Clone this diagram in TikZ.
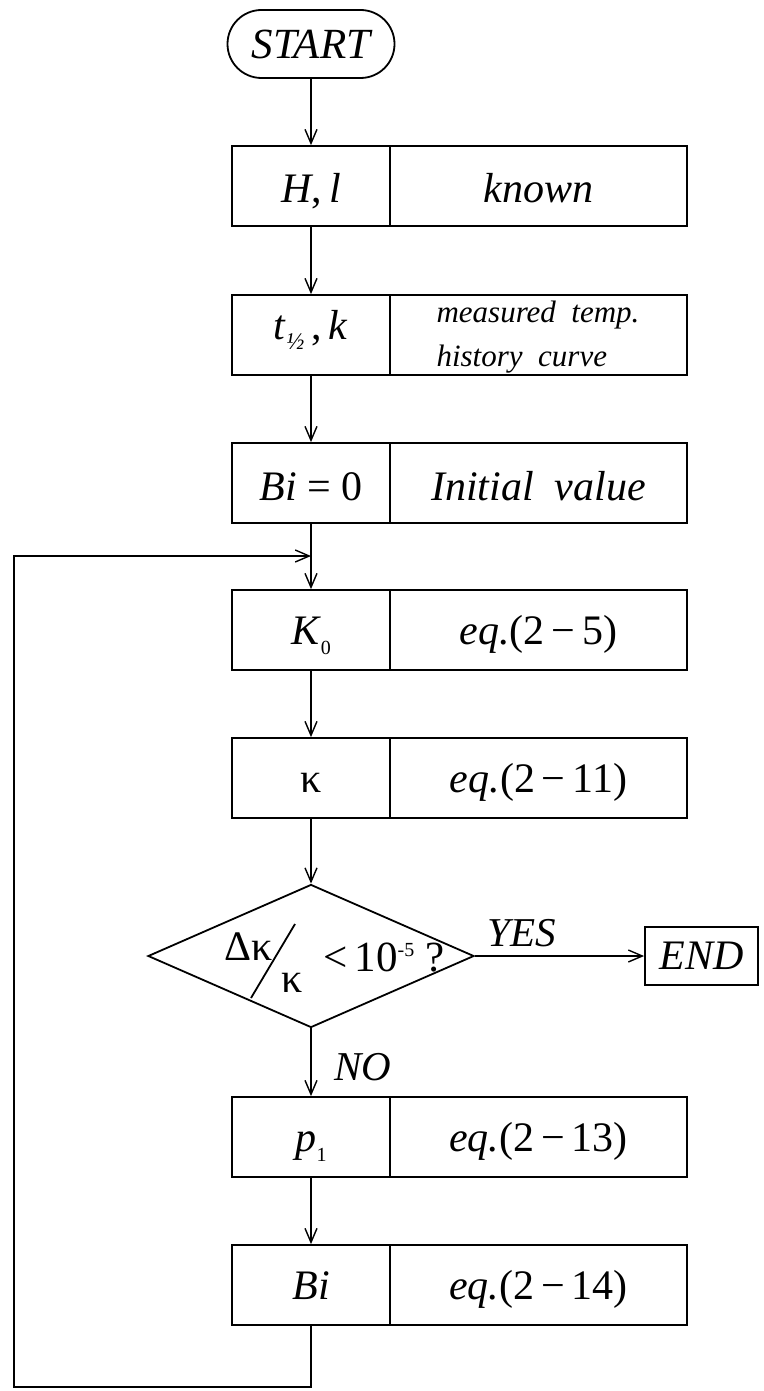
\documentclass[tikz,border=0pt]{standalone}
\usepackage{fontspec}
\setmainfont{Liberation Serif}
\usetikzlibrary{arrows.meta,shapes.geometric}
\begin{document}
\begin{tikzpicture}[x=1pt,y=-1pt,
  box/.style={draw, line width=1.8pt, minimum height=80pt, inner sep=0pt, text height=34pt, text depth=6pt, font=\fontsize{42}{46}\selectfont},
  hibox/.style={text height=37pt, text depth=3pt},
  lbox/.style={box, minimum width=158pt},
  rbox/.style={box, minimum width=297pt},
  flow/.style={line width=1.4pt, -{Straight Barb[length=14pt,width=12pt,line width=1.4pt]}},
  lbl/.style={font=\fontsize{41}{44}\selectfont\itshape, inner sep=0pt}
]
\useasboundingbox (0,0) rectangle (763,1391);
\newcommand{\smallsub}[3]{\raisebox{#1}{\fontsize{#3}{#3}\selectfont #2}}

\node[draw, line width=1.8pt, rounded corners=34pt, minimum width=167pt, minimum height=68pt, inner sep=0pt,
      font=\fontsize{43}{46}\selectfont\itshape] (start) at (311,44) {START};

\node[lbox, hibox] (a) at (311,186) {\textit{H},\,\textit{l}};
\node[rbox, hibox] (ar) at (538.5,186) {\textit{known}};

\node[lbox, text height=24pt, text depth=16pt] (b) at (311,335) {\textit{t}\smallsub{-10pt}{\textit{½}}{24}\,,\,\textit{k}};
\node[rbox] (br) at (538.5,335) {};
\node[inner sep=0pt, align=left, font=\fontsize{31}{44}\selectfont\itshape] (bt) at (538,337) {measured\ \ temp.\\history\ \ curve};

\node[lbox, hibox] (c) at (311,483) {\textit{Bi} = 0};
\node[rbox, hibox] (cr) at (538.5,483) {\textit{Initial\ \ value}};

\node[lbox] (d) at (311,630) {\textit{K}\smallsub{-10pt}{0}{20}};
\node[rbox] (dr) at (538.5,630) {\textit{eq.}(2\,−\,5)};

\node[lbox] (e) at (311,778) {κ};
\node[rbox] (er) at (538.5,778) {\textit{eq.}(2\,−\,11)};

\node[draw, shape=diamond, line width=1.8pt, minimum width=326pt, minimum height=143pt, inner sep=0pt] (dia) at (311,956) {};
\node[inner sep=0pt, anchor=base, font=\fontsize{42}{44}\selectfont] (dk) at (249,960) {Δκ};
\node[inner sep=0pt, anchor=base, font=\fontsize{42}{44}\selectfont] (kk) at (292,992) {κ};
\coordinate (s1) at (295,924);
\coordinate (s2) at (251,998);
\draw[line width=1.8pt] (s1) -- (s2);
\node[inner sep=0pt, anchor=base west, font=\fontsize{43}{46}\selectfont] (lt) at (323,971) {<\,10\smallsub{15pt}{-5}{20}\ ?};

\node[draw, line width=1.8pt, minimum width=113pt, minimum height=58pt, inner sep=0pt,
      font=\fontsize{42}{44}\selectfont\itshape] (end) at (701.5,956) {END};
\node[lbl, anchor=base west] (yes) at (487,946) {YES};
\node[lbl, anchor=base west] (no) at (334,1080) {NO};

\node[lbox] (f) at (311,1137) {\textit{p}\smallsub{-10pt}{1}{20}};
\node[rbox] (fr) at (538.5,1137) {\textit{eq.}(2\,−\,13)};

\node[lbox] (g) at (311,1285) {\textit{Bi}};
\node[rbox] (gr) at (538.5,1285) {\textit{eq.}(2\,−\,14)};

\coordinate (j) at (311,556);
\coordinate (lb) at (14,1387);
\coordinate (lt2) at (14,556);

\draw[flow] (start) -- (a);
\draw[flow] (a) -- (b);
\draw[flow] (b) -- (c);
\draw[flow] (c) -- (d);
\draw[flow] (d) -- (e);
\draw[flow] (e) -- (dia);
\draw[flow] (dia) -- (end);
\draw[flow] (dia) -- (f);
\draw[flow] (f) -- (g);
\draw[flow] (g.south) |- (lb) -- (lt2) -- (j);
\end{tikzpicture}
\end{document}
